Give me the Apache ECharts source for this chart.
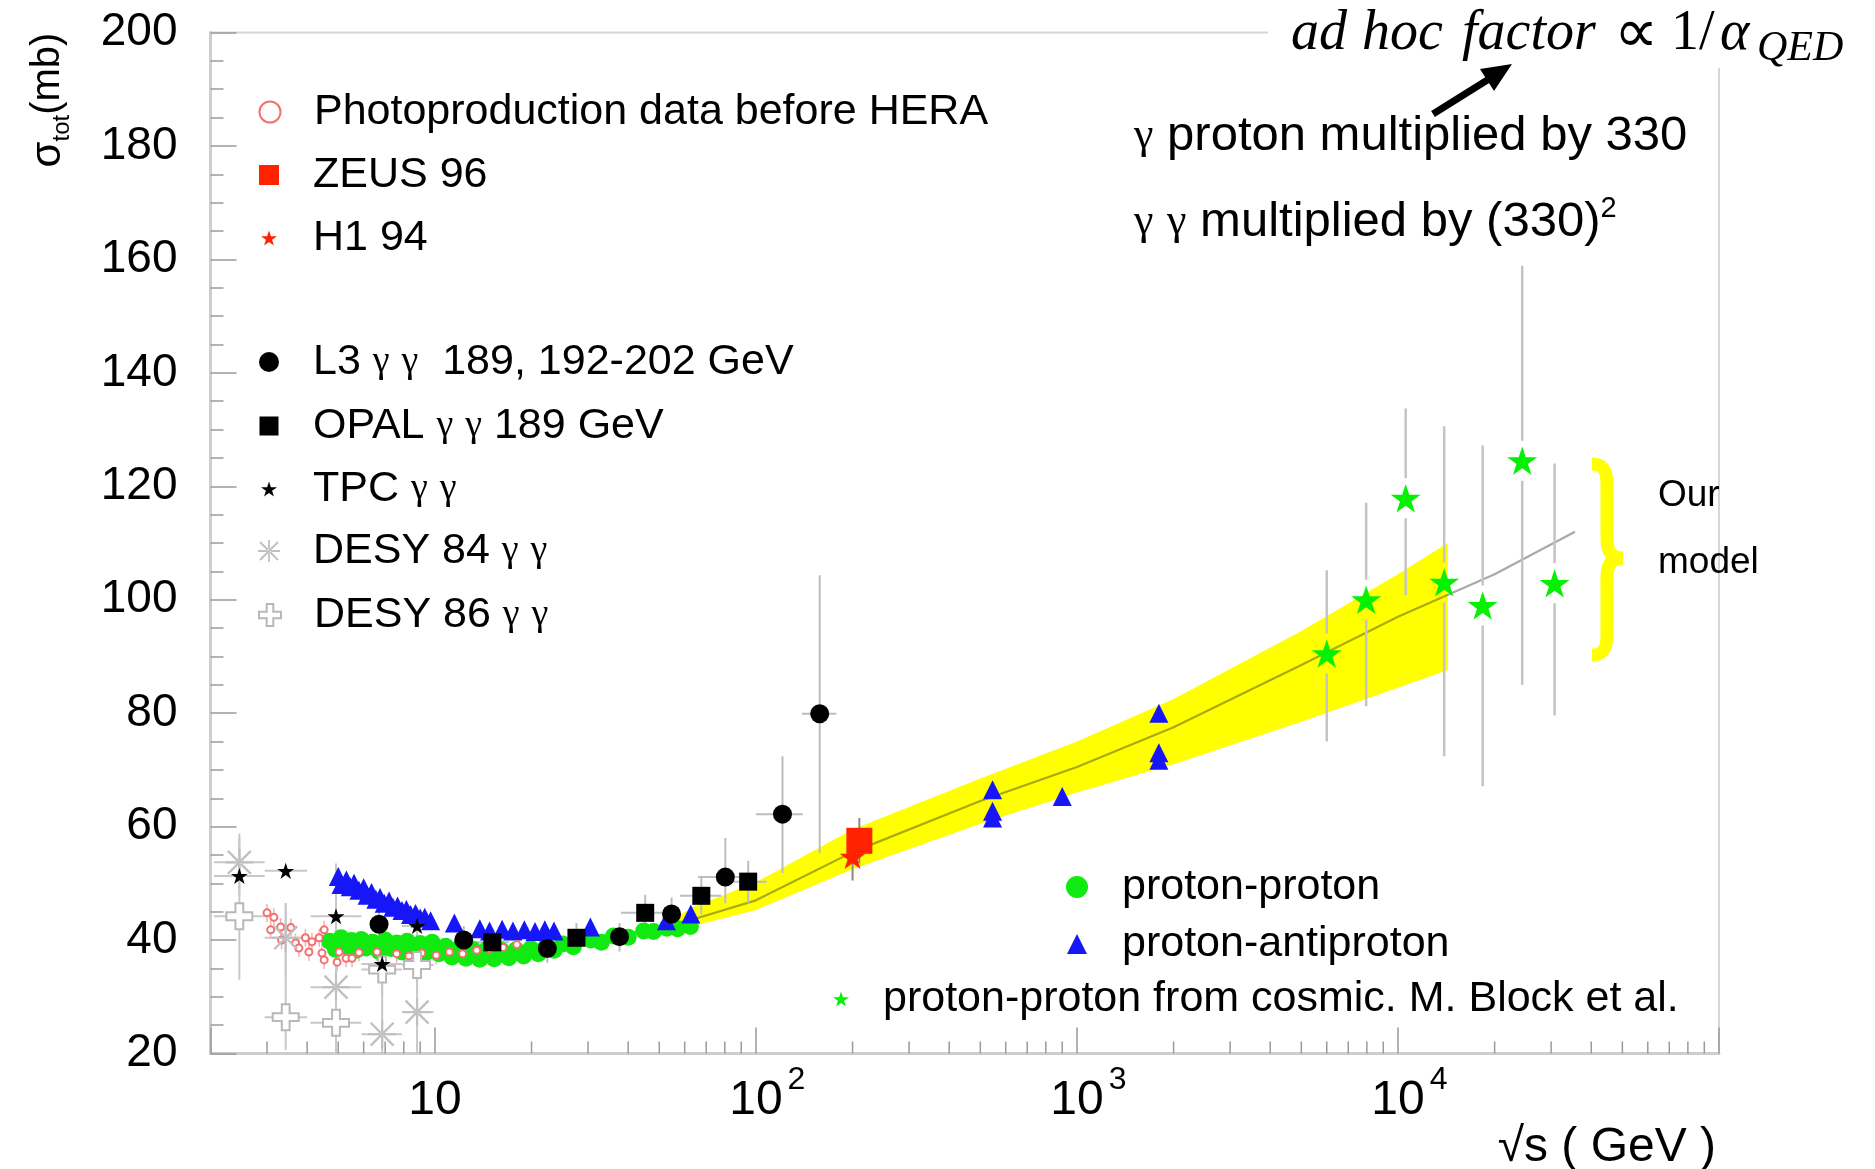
<!DOCTYPE html>
<html><head><meta charset="utf-8">
<script src="https://cdn.jsdelivr.net/npm/echarts@6/dist/echarts.min.js"></script>
<style>html,body{margin:0;padding:0;background:#fff}#c{width:1875px;height:1169px}</style>
</head><body><div id="c"></div>
<script>
// ---------------- data (x = sqrt(s) in GeV, y = sigma_tot in mb) ----------------
// rows: [x, y, xLow, xHigh, yLow, yHigh]
const protonProton = [[4.7,39.8],[4.9,38.4],[5.1,40.4],[5.3,38.8],[5.5,39.9],[5.7,38.2],[5.9,40.1],[6.1,38.6],[6.4,39.6],[6.7,38.0],[7.0,40.0],[7.3,38.5],[7.6,39.5],[7.9,37.9],[8.2,39.8],[8.6,38.3],[9.0,39.4],[9.4,37.8],[9.8,39.6],[10.3,37.6],[10.8,38.9],[11.3,37.0],[11.9,38.6],[12.5,36.8],[13.1,38.4],[13.8,36.6],[14.5,38.3],[15.3,36.7],[16.1,38.2],[17.0,36.9],[17.9,38.3],[18.9,37.2],[19.9,38.5],[21.0,37.6],[22.2,38.9],[23.5,38.2],[25.0,39.3],[27.0,38.8],[30.6,40.0],[33.0,39.6],[36.0,40.7],[40.0,40.5],[44.7,41.6],[48.0,41.5],[52.8,42.1],[57.0,42.0],[62.5,42.4]];
const protonAntiproton = [[5.0,51.2],[5.1,49.8],[5.3,50.6],[5.45,49.4],[5.6,50.0],[5.8,48.8],[6.0,49.2],[6.15,47.9],[6.35,48.4],[6.55,47.2],[6.75,47.5],[6.95,46.5],[7.2,46.9],[7.4,45.8],[7.65,46.0],[7.9,45.2],[8.15,45.4],[8.4,44.5],[8.7,44.7],[9.0,43.9],[9.3,44.0],[9.7,43.4],[11.5,43.0],[13.8,42.0],[14.8,41.6],[16.2,41.9],[17.5,41.6],[19.0,41.8],[20.5,41.5],[22.0,41.8],[23.5,41.6],[30.5,42.3],[52.6,43.4],[62.7,44.6],[546,66.5,null,null,58.8,72.6],[546,62.7],[546,61.5],[900,65.3],[1800,80.0,null,null,69.5,82.0],[1800,73.0],[1800,71.7]];
const photoproduction = [[3.0,44.8],[3.15,44.0],[3.08,41.8],[3.31,42.3],[3.56,42.2],[3.33,40.0],[3.68,39.5],[3.95,40.4],[4.14,39.7],[4.36,40.4],[4.52,41.8],[3.77,38.6],[4.05,37.9],[4.45,37.7],[4.52,36.5],[4.96,36.1],[5.29,36.8],[5.52,36.8],[5.03,37.9],[5.8,37.8],[6.6,37.9],[7.6,37.6],[8.3,37.2],[9.1,37.7],[10.1,37.3],[11.1,37.9],[12.2,37.6],[13.5,38.2],[14.8,38.4],[16.3,38.7],[18.0,39.2]];
const zeus96 = [[210,57.5,null,null,53.5,61.5]];
const h194 = [[200,54.7,null,null,50.5,58.5]];
const l3 = [[6.7,42.8,null,null,39,47],[12.3,40.0,null,null,37.5,42.5],[22.4,38.5,null,null,36,41],[37.6,40.6,null,null,38,43],[54.6,44.6,null,null,42,47.5],[80.3,51.1,66,96,46.5,58],[121,62.2,100,140,51.8,72.4],[158,79.9,139,178,55.3,104.3]];
const opal = [[15.1,39.6,13.5,17,37,42],[27.6,40.4,24,32,37.5,43],[45.2,44.8,38,54,42,48],[67.6,47.8,58,78,44.5,51],[94.6,50.3,82,108,46.5,54]];
const tpc = [[2.46,51.3,2.05,2.95,null,null],[3.43,52.2,2.95,4.0,null,null],[4.92,44.2,4.1,5.9,null,null],[6.85,35.8,5.9,7.9,null,null],[8.8,42.5,7.9,9.9,null,null]];
const desy84 = [[2.46,53.7,2.05,2.95,48,58],[3.43,40.4,2.95,4.0,33.5,46.5],[4.92,31.7,4.1,5.9,19,53.5],[6.85,23.4,5.9,7.9,15,40],[8.8,27.3,7.9,9.9,15,45.8]];
const desy86 = [[2.46,44.2,2.05,2.95,33,58.8],[3.43,26.4,2.95,4.0,20.6,46.5],[4.92,25.4,4.1,5.9,18,31],[6.85,34.8,5.9,7.9,30,39],[8.8,35.6,7.9,9.9,32,38]];
const cosmic = [[6000,90.5,null,null,75,105.2],[7960,100,null,null,81.2,117.1],[10570,117.9,null,null,100.8,133.7],[13930,103.1,null,null,72.4,130.6],[18360,99,null,null,67.1,127.2],[24380,124.5,null,null,85,158.9],[30750,102.9,null,null,79.6,124]];
// model: central curve and band
const modelX = [4.7,7,10,15,20,30,45,65,100,200,500,1000,2000,5000,10000,20000,35600];
const modelY = [38.4,38.2,38.3,38.6,39.0,40.0,41.7,43.8,47.0,55.5,64.5,70.5,77.5,88.5,97,104.5,112];
const bandX  = [55,65,100,200,500,1000,2000,5000,10000,14290];
const bandLo = [41.8,42.6,45.3,52.5,60.5,66.0,71.0,78.5,84.5,87.6];
const bandHi = [43.8,46.0,50.2,59.5,68.5,75.0,82.5,94.5,104.5,110.0];
// axis ticks
const xMinorTickValues = [3,4,5,6,7,8,9,20,30,40,50,60,70,80,90,200,300,400,500,600,700,800,900,2000,3000,4000,5000,6000,7000,8000,9000,20000,30000,40000,50000,60000,70000,80000,90000];
const xMin = 2, xMax = 100000, yMin = 20, yMax = 200, yStep = 20;

// ---------------- names ----------------
const S_PHOTO='Photoproduction data before HERA', S_ZEUS='ZEUS 96', S_H1='H1 94',
  S_L3='L3 γ γ  189, 192-202 GeV', S_OPAL='OPAL γ γ 189 GeV', S_TPC='TPC γ γ',
  S_D84='DESY 84 γ γ', S_D86='DESY 86 γ γ', S_PP='proton-proton', S_PPBAR='proton-antiproton',
  S_COS='proton-proton from cosmic. M. Block et al.';

const STAR='path://M50,0 L61.2,34.5 L97.6,34.5 L68.2,55.9 L79.4,90.5 L50,69.1 L20.6,90.5 L31.8,55.9 L2.4,34.5 L38.8,34.5 Z';
const ASTER='path://M0,46 L100,46 L100,54 L0,54 Z M46,0 L54,0 L54,100 L46,100 Z M12,6 L6,12 L88,94 L94,88 Z M88,6 L94,12 L12,94 L6,88 Z';
const OCROSS='path://M35,0 L65,0 L65,35 L100,35 L100,65 L65,65 L65,100 L35,100 L35,65 L0,65 L0,35 L35,35 Z';

function errSeries(data, color, width, gap, z) {
  return {
    type:'custom', silent:true, clip:true, z:z||3, data:data, encode:{x:0,y:1},
    renderItem:function(params, api){
      const x=api.value(0), y=api.value(1), xlo=api.value(2), xhi=api.value(3), ylo=api.value(4), yhi=api.value(5);
      const c=api.coord([x,y]); const kids=[]; const st={stroke:color,lineWidth:width};
      const L=(x1,y1,x2,y2)=>({type:'line',shape:{x1,y1,x2,y2},style:st});
      if (isFinite(xlo)&&isFinite(xhi)) {
        const a=api.coord([xlo,y]), b=api.coord([xhi,y]);
        if (gap>0){kids.push(L(a[0],c[1],c[0]-gap,c[1]));kids.push(L(c[0]+gap,c[1],b[0],c[1]));}
        else kids.push(L(a[0],c[1],b[0],c[1]));
      }
      if (isFinite(ylo)&&isFinite(yhi)) {
        const a=api.coord([x,ylo]), b=api.coord([x,yhi]);
        if (gap>0){kids.push(L(c[0],a[1],c[0],c[1]+gap));kids.push(L(c[0],c[1]-gap,c[0],b[1]));}
        else kids.push(L(c[0],a[1],c[0],b[1]));
      }
      return {type:'group',children:kids};
    }
  };
}
function scat(name, data, symbol, size, itemStyle, z) {
  return {type:'scatter', name, data, symbol, symbolSize:size, symbolKeepAspect:true,
    itemStyle:Object.assign({opacity:1}, itemStyle), z:z, silent:true, encode:{x:0,y:1}};
}

const FONT='Liberation Sans';
const legendLayout = [
  {name:S_PHOTO, cx:269, cy:112, s:21, tx:313},
  {name:S_ZEUS,  cx:269, cy:175, s:20, tx:313},
  {name:S_H1,    cx:269, cy:238, s:16, tx:313},
  {name:S_L3,    cx:269, cy:362, s:20, tx:313},
  {name:S_OPAL,  cx:269, cy:426, s:19, tx:313},
  {name:S_TPC,   cx:269, cy:489, s:16, tx:313},
  {name:S_D84,   cx:269, cy:551, s:22, tx:313},
  {name:S_D86,   cx:269, cy:615, s:22, tx:313},
  {name:S_PP,    cx:1077, cy:887, s:22, tx:1122},
  {name:S_PPBAR, cx:1077, cy:944, s:20, tx:1122},
  {name:S_COS,   cx:841, cy:999, s:16, tx:883}
];
const legends = legendLayout.map(it=>({
  data:[it.name], orient:'vertical', left:it.cx-it.s/2, top:it.cy-24, padding:0, itemGap:0,
  itemWidth:it.s, itemHeight:it.s, selectedMode:false,
  formatter:n=>n.replace(/γ/g,'{g|γ}'),
  textStyle:{fontFamily:FONT, fontSize:43, color:'#000', lineHeight:48,
    padding:[0,0,0,it.tx-(it.cx+it.s/2)-5],
    rich:{g:{fontFamily:'Liberation Serif', fontSize:38, lineHeight:48, color:'#000'}}}
}));

const SUPF=32, BASEF=48;
const chart = echarts.init(document.getElementById('c'), null, {renderer:'canvas'});
const option = {
  animation:false,
  backgroundColor:'#fff',
  grid:{left:210.5, right:156, top:32.5, bottom:115.5, show:true, borderColor:'#d6d6d6', borderWidth:2, containLabel:false},
  legend: legends,
  xAxis:{type:'log', logBase:10, min:xMin, max:xMax,
    axisLine:{lineStyle:{color:'#cdcdcd', width:3}},
    axisTick:{inside:true, length:26, lineStyle:{color:'#9a9a9a', width:1.5}},
    minorTick:{show:false}, splitLine:{show:false},
    axisLabel:{margin:11, color:'#000', fontFamily:FONT, fontSize:BASEF,
      formatter:function(v){
        const l=Math.log10(v), e=Math.round(l);
        if (Math.abs(l-e)>1e-6) return '';
        if (e===1) return '{b|10}';
        if (e>=2&&e<=4) return '{h|'+e+'}{b|10}{s|'+e+'}';
        return '';
      },
      rich:{
        b:{fontFamily:FONT,fontSize:BASEF,lineHeight:72,color:'#000'},
        s:{fontFamily:FONT,fontSize:SUPF,lineHeight:SUPF,verticalAlign:'top',padding:[0,0,0,5],color:'#000'},
        h:{fontFamily:FONT,fontSize:SUPF,lineHeight:SUPF,verticalAlign:'top',padding:[0,5,0,0],color:'rgba(0,0,0,0)'}
      }}
  },
  yAxis:{type:'value', min:yMin, max:yMax, interval:yStep,
    axisLine:{show:true, lineStyle:{color:'#cdcdcd', width:3}},
    axisTick:{show:true, inside:true, length:26, lineStyle:{color:'#9a9a9a', width:1.5}},
    minorTick:{show:true, splitNumber:4, length:13, lineStyle:{color:'#9a9a9a', width:1.5}},
    splitLine:{show:false},
    axisLabel:{margin:33, color:'#000', fontFamily:FONT, fontSize:46}
  },
  series:[
    {type:'custom', name:'band', silent:true, z:1, clip:true,
      data:bandX.map((x,i)=>[x,bandLo[i],bandHi[i]]), encode:{x:0,y:[1,2]},
      renderItem:function(params, api){
        if (params.dataIndex!==0) return null;
        const pts=[];
        for (let i=0;i<bandX.length;i++) pts.push(api.coord([bandX[i],bandLo[i]]));
        for (let i=bandX.length-1;i>=0;i--) pts.push(api.coord([bandX[i],bandHi[i]]));
        return {type:'polygon', shape:{points:pts}, style:{fill:'#ffff00'}};
      }},
    {type:'line', name:'model', silent:true, z:2, showSymbol:false, symbol:'none',
      data:modelX.map((x,i)=>[x,modelY[i]]),
      lineStyle:{color:'rgba(40,40,40,0.4)', width:2.2}},
    {type:'custom', name:'minorTicks', silent:true, z:5, clip:false,
      data:xMinorTickValues.map(v=>[v,yMin]), encode:{x:0,y:1},
      renderItem:function(params, api){
        const p=api.coord([api.value(0),api.value(1)]);
        return {type:'line', shape:{x1:p[0],y1:p[1],x2:p[0],y2:p[1]-12}, style:{stroke:'#9a9a9a',lineWidth:1.5}};
      }},
    errSeries(photoproduction.map(r=>[r[0],r[1],null,null,r[1]-1.6,r[1]+1.6]), '#f6b0b0', 1.5, 0, 3),
    errSeries(desy84, '#c8c8c8', 2, 0, 3),
    errSeries(desy86, '#c8c8c8', 2, 0, 3),
    errSeries(tpc, '#c8c8c8', 2, 0, 3),
    errSeries(l3, '#bdbdbd', 2, 0, 3),
    errSeries(opal, '#bdbdbd', 2, 0, 3),
    errSeries(protonAntiproton, '#8a8a8a', 2, 0, 3),
    errSeries(zeus96, '#8a8a8a', 2, 0, 3),
    errSeries(h194, '#8a8a8a', 2, 0, 3),
    errSeries(cosmic, '#c4c4c4', 2.5, 20, 3),
    scat(S_PP, protonProton, 'circle', 17, {color:'#10ea10'}, 4),
    scat(S_PPBAR, protonAntiproton, 'triangle', 19, {color:'#1616f8'}, 5),
    scat(S_PHOTO, photoproduction, 'emptyCircle', 7, {color:'#f27070', borderWidth:1.5}, 6),
    scat(S_D86, desy86, OCROSS, 26, {color:'#fff', borderColor:'#b8b8b8', borderWidth:2}, 6),
    scat(S_D84, desy84, ASTER, 28, {color:'#c0c0c0'}, 6),
    scat(S_TPC, tpc, STAR, 17, {color:'#000'}, 7),
    scat(S_OPAL, opal, 'rect', 18, {color:'#000'}, 7),
    scat(S_L3, l3, 'circle', 19, {color:'#000'}, 7),
    scat(S_ZEUS, zeus96, 'rect', 26, {color:'#ff2200'}, 8),
    scat(S_H1, h194, STAR, 26, {color:'#ff2200'}, 9),
    scat(S_COS, cosmic, STAR, 30, {color:'#05f005'}, 8)
  ],
  graphic:{elements:[
    {type:'rect', z:100, shape:{x:1268,y:0,width:607,height:68}, style:{fill:'#fff'}},
    {type:'text', z:101, x:1291, y:34, style:{text:'ad', fontFamily:'Liberation Serif', fontStyle:'italic', fontSize:56, fill:'#000', verticalAlign:'middle'}},
    {type:'text', z:101, x:1362, y:34, style:{text:'hoc', fontFamily:'Liberation Serif', fontStyle:'italic', fontSize:56, fill:'#000', verticalAlign:'middle'}},
    {type:'text', z:101, x:1462, y:34, style:{text:'factor', fontFamily:'Liberation Serif', fontStyle:'italic', fontSize:56, fill:'#000', verticalAlign:'middle'}},
    {type:'text', z:101, x:1614, y:36, style:{text:'∝', fontFamily:'DejaVu Sans', fontSize:62, fill:'#000', verticalAlign:'middle'}},
    {type:'text', z:101, x:1671, y:34, style:{text:'1/', fontFamily:'Liberation Serif', fontSize:56, fill:'#000', verticalAlign:'middle'}},
    {type:'text', z:101, x:1720, y:34, style:{text:'α', fontFamily:'Liberation Serif', fontStyle:'italic', fontSize:56, fill:'#000', verticalAlign:'middle'}},
    {type:'text', z:101, x:1757, y:49, style:{text:'QED', fontFamily:'Liberation Serif', fontStyle:'italic', fontSize:42, fill:'#000', verticalAlign:'middle'}},
    {type:'line', z:101, shape:{x1:1433,y1:114,x2:1489,y2:79}, style:{stroke:'#000', lineWidth:7}},
    {type:'polygon', z:101, shape:{points:[[1512,64],[1494,91],[1480,69]]}, style:{fill:'#000'}},
    {type:'text', z:101, x:1134, y:136, style:{text:'{g|γ} proton multiplied by 330', fontFamily:FONT, fontSize:49, fill:'#000', verticalAlign:'middle',
      rich:{g:{fontFamily:'Liberation Serif', fontSize:44}}}},
    {type:'text', z:101, x:1134, y:222, style:{text:'{g|γ} {g|γ} multiplied by (330){s|2}', fontFamily:FONT, fontSize:49, fill:'#000', verticalAlign:'middle',
      rich:{g:{fontFamily:'Liberation Serif', fontSize:44, lineHeight:56}, s:{fontFamily:FONT, fontSize:29, lineHeight:56, verticalAlign:'top'}}}},
    {type:'bezierCurve', z:101, shape:{x1:1592,y1:464,cpx1:1603,cpy1:464,cpx2:1607,cpy2:470,x2:1607,y2:484}, style:{stroke:'#ffff00', lineWidth:13, fill:null}},
    {type:'line', z:101, shape:{x1:1607,y1:483,x2:1607,y2:540}, style:{stroke:'#ffff00', lineWidth:13}},
    {type:'bezierCurve', z:101, shape:{x1:1607,y1:539,cpx1:1607,cpy1:552,cpx2:1612,cpy2:558,x2:1623,y2:558}, style:{stroke:'#ffff00', lineWidth:13, fill:null}},
    {type:'bezierCurve', z:101, shape:{x1:1623,y1:558,cpx1:1612,cpy1:558,cpx2:1607,cpy2:564,x2:1607,y2:577}, style:{stroke:'#ffff00', lineWidth:13, fill:null}},
    {type:'line', z:101, shape:{x1:1607,y1:576,x2:1607,y2:636}, style:{stroke:'#ffff00', lineWidth:13}},
    {type:'bezierCurve', z:101, shape:{x1:1607,y1:635,cpx1:1607,cpy1:649,cpx2:1603,cpy2:655,x2:1592,y2:655}, style:{stroke:'#ffff00', lineWidth:13, fill:null}},
    {type:'text', z:101, x:1658, y:496, style:{text:'Our', fontFamily:FONT, fontSize:37, fill:'#000', verticalAlign:'middle'}},
    {type:'text', z:101, x:1658, y:563, style:{text:'model', fontFamily:FONT, fontSize:37, fill:'#000', verticalAlign:'middle'}},
    {type:'text', z:101, x:48, y:100, rotation:Math.PI/2, style:{text:'{s|σ}{t|tot}{m|(mb)}', align:'center', verticalAlign:'middle', fill:'#000',
      rich:{s:{fontFamily:FONT, fontSize:42, lineHeight:52}, t:{fontFamily:FONT, fontSize:24, lineHeight:52, verticalAlign:'bottom'}, m:{fontFamily:FONT, fontSize:40, lineHeight:52}}}},
    {type:'text', z:101, x:1716, y:1148, style:{text:'√s ( GeV )', align:'right', verticalAlign:'middle', fontFamily:FONT, fontSize:48, fill:'#000'}}
  ]}
};
chart.setOption(option);
</script>
</body></html>
